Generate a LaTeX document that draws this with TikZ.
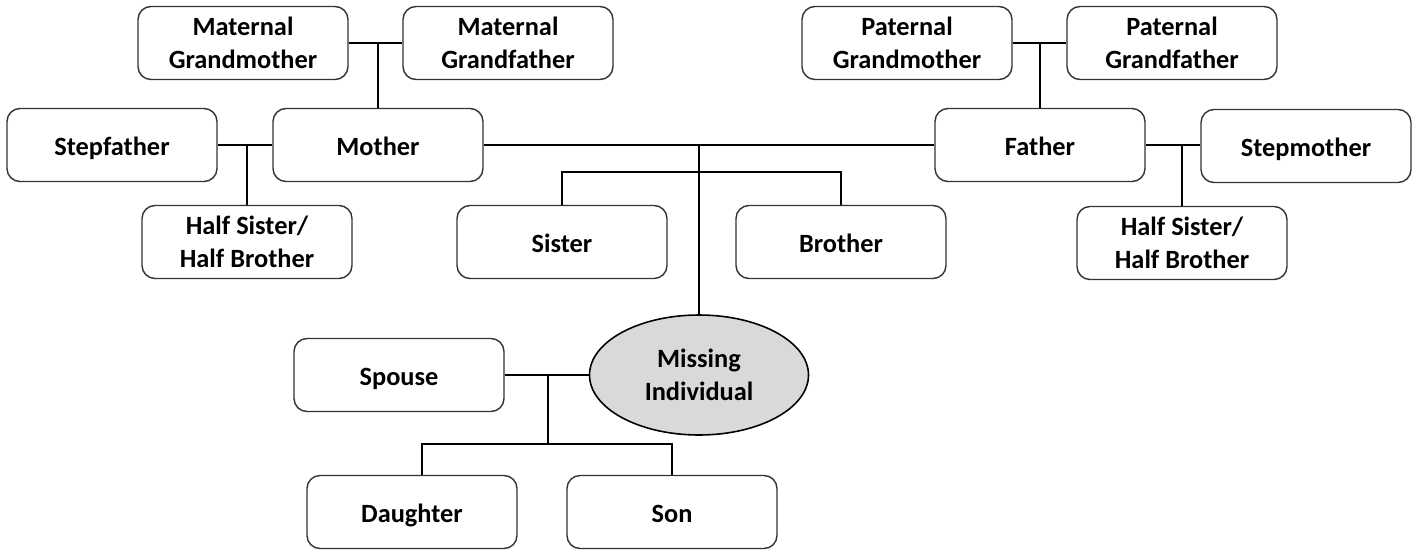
\documentclass[tikz,border=0pt]{standalone}
\usepackage{fontspec}
\setmainfont{Carlito}
\usepackage{xcolor}
\usepackage{tikz}
\usetikzlibrary{shapes.geometric}
\usetikzlibrary{positioning}

\begin{document}
\begin{tikzpicture}[transform shape,scale=1,
	person/.style={draw=black!80,line width=0.8pt,rounded corners=2.6mm,minimum width=4.2cm,minimum height=1.46cm,align=center,font=\fontsize{15}{19}\selectfont\bfseries},
	oneline/.style={text height=3.1ex,text depth=0.5ex},
	missing/.style={ellipse,draw=black,line width=0.9pt,fill=black!15,minimum width=4.38cm,minimum height=2.4cm,inner sep=0pt,align=center,font=\fontsize{15}{19}\selectfont\bfseries},
	link/.style={line width=1.2pt}]
		\useasboundingbox (0,0) rectangle (28.26,-11.02);
		\node[person] (mgm) at (4.86,-0.86) {Maternal\\Grandmother};
		\node[person] (mgf) at (10.16,-0.86) {Maternal\\Grandfather};
		\node[person] (pgm) at (18.14,-0.86) {Paternal\\Grandmother};
		\node[person] (pgf) at (23.44,-0.86) {Paternal\\Grandfather};
		\node[person,oneline] (stepf) at (2.24,-2.90) {Stepfather};
		\node[person,oneline] (mother) at (7.56,-2.90) {Mother};
		\node[person,oneline] (father) at (20.80,-2.90) {Father};
		\node[person,oneline] (stepm) at (26.12,-2.92) {Stepmother};
		\node[person] (halfl) at (4.94,-4.84) {Half Sister/\\Half Brother};
		\node[person,oneline] (sister) at (11.24,-4.84) {Sister};
		\node[person,oneline] (brother) at (16.82,-4.84) {Brother};
		\node[person] (halfr) at (23.64,-4.86) {Half Sister/\\Half Brother};
		\node[missing] (mi) at (13.98,-7.50) {Missing\\Individual};
		\node[person,oneline] (spouse) at (7.98,-7.50) {Spouse};
		\node[person,oneline] (daughter) at (8.24,-10.24) {Daughter};
		\node[person,oneline] (son) at (13.44,-10.24) {Son};
		\draw[link] (mgm) -- (mgf);
		\draw[link] (mother.north) -- (mother.north |- mgm.east);
		\draw[link] (pgm) -- (pgf);
		\draw[link] (father.north) -- (father.north |- pgm.east);
		\draw[link] (stepf) -- (mother);
		\draw[link] (halfl.north) -- (halfl.north |- mother.west);
		\draw[link] (father) -- (stepm.west |- father.east);
		\draw[link] (halfr.north) -- (halfr.north |- father.east);
		\draw[link] (mother) -- (father);
		\draw[link] (mi.north) -- (mi.north |- mother.east);
		\draw[link] (sister.north) -- ++(0,0.66) -| (brother.north);
		\draw[link] (spouse) -- (mi);
		\coordinate (kids) at (10.96,-7.50);
		\draw[link] (kids) -- (10.96,-8.90);
		\draw[link] ([xshift=2mm]daughter.north) -- ++(0,0.62) -| (son.north);
	\end{tikzpicture}
\end{document}
